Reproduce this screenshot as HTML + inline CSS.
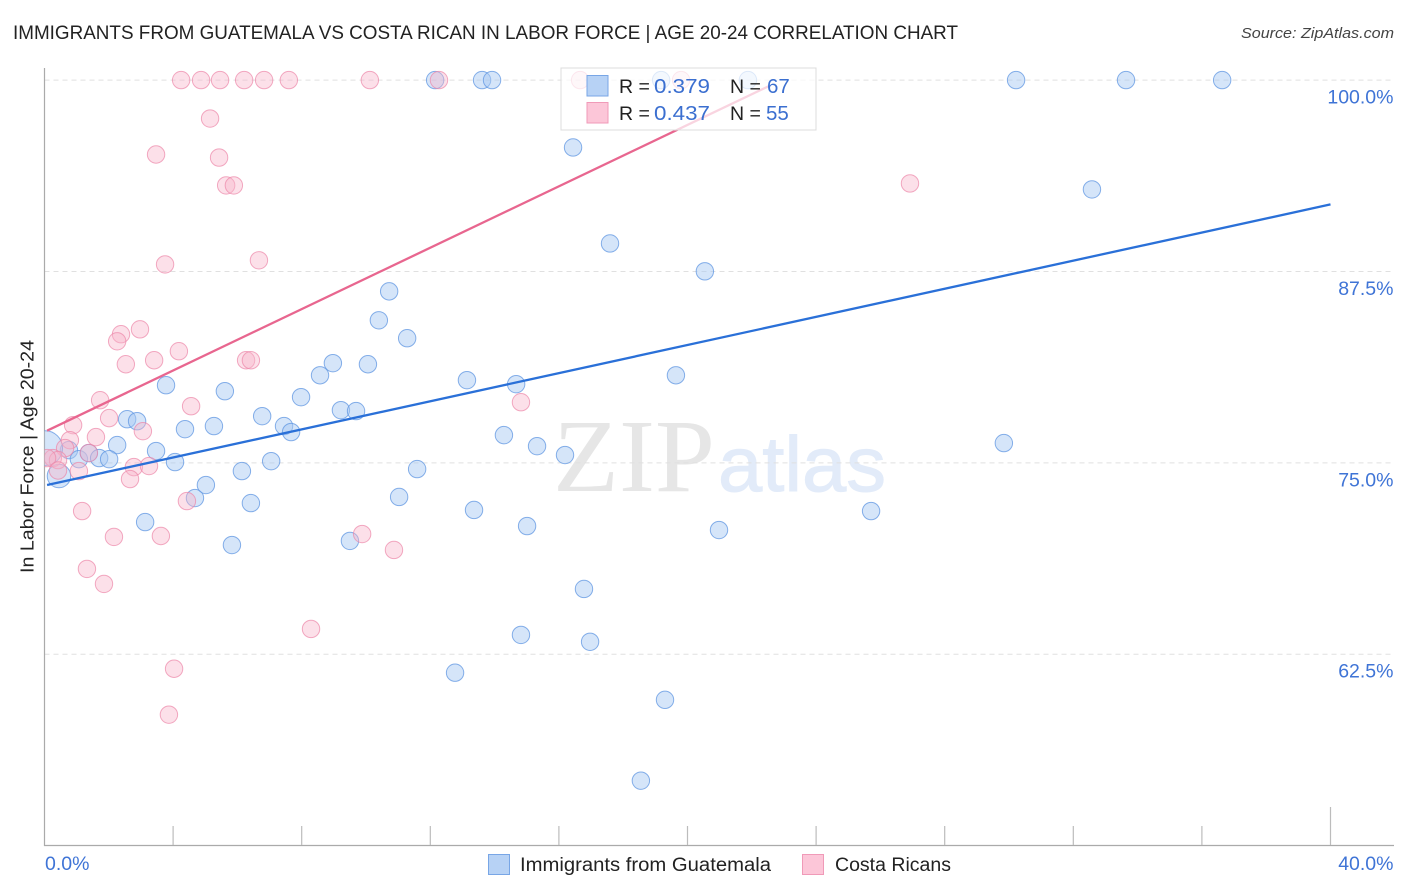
<!DOCTYPE html>
<html lang="en">
<head>
<meta charset="utf-8">
<title>Immigrants from Guatemala vs Costa Rican in Labor Force | Age 20-24 Correlation Chart</title>
<style>
html,body{margin:0;padding:0;background:#fff;width:1406px;height:892px;overflow:hidden}
svg{display:block;font-family:"Liberation Sans",sans-serif}
</style>
</head>
<body>
<svg id="chart" width="1406" height="892" viewBox="0 0 1406 892" xmlns="http://www.w3.org/2000/svg">
  <defs>
    <clipPath id="plot-clip"><rect x="44.5" y="60" width="1350" height="785"/></clipPath>
  </defs>
  <text x="13" y="39" font-size="19.5" fill="#222" textLength="945" lengthAdjust="spacingAndGlyphs">IMMIGRANTS FROM GUATEMALA VS COSTA RICAN IN LABOR FORCE | AGE 20-24 CORRELATION CHART</text>
  <text x="1394" y="38" font-size="15" font-style="italic" fill="#444" text-anchor="end" textLength="153" lengthAdjust="spacingAndGlyphs">Source: ZipAtlas.com</text>
  <text x="553" y="491" font-family="'Liberation Serif',serif" font-size="104" fill="#e6e6e6" textLength="162" lengthAdjust="spacingAndGlyphs">ZIP</text>
  <text x="718" y="491" font-size="78" fill="#e2ebf9" stroke="#e2ebf9" stroke-width="1" textLength="168" lengthAdjust="spacingAndGlyphs">atlas</text>
  <g id="grid"></g>
  <g id="axes"></g>
  <g id="marks" clip-path="url(#plot-clip)"></g>
  <text transform="translate(33.5,456.5) rotate(-90)" font-size="18.5" fill="#222" text-anchor="middle" textLength="233" lengthAdjust="spacingAndGlyphs">In Labor Force | Age 20-24</text>

  <g>
    <rect x="561" y="68" width="255" height="62" fill="#fff" fill-opacity="0.72" stroke="#dcdcdc"/>
    <rect x="587" y="75.5" width="21" height="20.5" fill="#b7d2f5" stroke="#78a6e6"/>
    <rect x="587" y="102.5" width="21" height="20.5" fill="#fcc6d8" stroke="#f09ab8"/>
    <text x="619" y="93" font-size="19.5" fill="#222">R =</text>
    <text x="654" y="93" font-size="20.5" fill="#3b6fd0" textLength="56" lengthAdjust="spacingAndGlyphs">0.379</text>
    <text x="730" y="93" font-size="19.5" fill="#222">N =</text>
    <text x="767" y="93" font-size="20.5" fill="#3b6fd0">67</text>
    <text x="619" y="120" font-size="19.5" fill="#222">R =</text>
    <text x="654" y="120" font-size="20.5" fill="#3b6fd0" textLength="56" lengthAdjust="spacingAndGlyphs">0.437</text>
    <text x="730" y="120" font-size="19.5" fill="#222">N =</text>
    <text x="766" y="120" font-size="20.5" fill="#3b6fd0">55</text>
  </g>

  <g>
    <rect x="488.5" y="854.5" width="21" height="20" fill="#b7d2f5" stroke="#78a6e6"/>
    <text x="520" y="871" font-size="19" fill="#222" textLength="251" lengthAdjust="spacingAndGlyphs">Immigrants from Guatemala</text>
    <rect x="802.5" y="854.5" width="21" height="20" fill="#fcc6d8" stroke="#f09ab8"/>
    <text x="835" y="871" font-size="19" fill="#222" textLength="116" lengthAdjust="spacingAndGlyphs">Costa Ricans</text>
  </g>
</svg>
<script>
var yTicks = [100, 87.5, 75, 62.5];
var yTickLabels = ["100.0%", "87.5%", "75.0%", "62.5%"];
var xTicks = [0, 4, 8, 12, 16, 20, 24, 28, 32, 36, 40];
var xEndTicks = [0, 40];
var xEndLabels = ["0.0%", "40.0%"];

var blueX = [18.55,19.30,12.77,16.97,14.82,16.78,9.50,5.83,3.13,6.42,4.68,5.02,11.03,13.36,15.01,20.98,25.71,11.59,6.14,7.05,4.06,3.47,4.37,5.27,2.26,2.57,2.88,3.78,5.61,6.77,7.45,7.67,7.98,8.57,8.97,10.06,9.22,9.69,13.14,14.67,14.29,15.32,16.19,19.64,20.54,17.59,16.44,10.40,10.72,11.28,29.84,32.58,30.22,33.64,36.63,12.15,13.61,13.92,19.18,21.88,0.76,1.07,1.38,1.70,2.01,0.45,0.02];
var blueY = [54.24,59.52,61.29,63.31,63.76,66.76,69.90,69.63,71.13,72.37,72.70,73.55,72.77,71.92,70.87,70.61,71.85,74.59,74.46,75.11,75.05,75.77,77.20,77.40,76.16,77.85,77.72,80.07,79.68,78.05,77.40,77.01,79.29,80.72,81.51,81.44,78.44,78.38,80.40,80.14,76.81,76.09,75.51,80.72,87.51,89.33,95.60,84.31,86.20,83.14,76.29,92.86,100,100,100,100,100,100,100,100,75.83,75.24,75.64,75.31,75.24,74.14,75.96];
var blueWeight = [1,1,1,1,1,1,1,1,1,1,1,1,1,1,1,1,1,1,1,1,1,1,1,1,1,1,1,1,1,1,1,1,1,1,1,1,1,1,1,1,1,1,1,1,1,1,1,1,1,1,1,1,1,1,1,1,1,1,1,1,1,1,1,1,1,1.35,2];

var pinkX = [4.25,4.87,5.46,6.21,6.83,7.60,10.12,12.27,16.66,19.80,5.15,3.47,5.43,5.65,5.89,26.92,3.75,6.67,2.97,2.38,2.26,4.18,2.53,3.41,6.27,6.42,1.73,4.56,2.01,0.89,3.06,1.60,0.79,0.64,0.26,0.42,0.08,14.82,1.07,2.78,3.25,2.66,4.43,1.17,2.16,3.62,9.88,10.87,1.32,1.85,8.29,4.03,3.87,1.38,0.42];
var pinkY = [100,100,100,100,100,100,100,100,100,100,97.49,95.14,94.94,93.12,93.12,93.25,87.96,88.23,83.72,83.40,82.94,82.29,81.44,81.70,81.70,81.70,79.09,78.70,77.92,77.46,77.07,76.68,76.48,75.96,75.31,75.18,75.31,78.96,74.46,74.72,74.79,73.94,72.50,71.85,70.16,70.22,70.35,69.31,68.07,67.09,64.15,61.55,58.55,75.64,74.50];

var blueLineX = [0.08, 40];
var blueLineY = [73.55, 91.88];
var pinkLineX = [0.08, 22.56];
var pinkLineY = [77.10, 99.64];

var NS = "http://www.w3.org/2000/svg";
function xScale(v) { return 44.5 + v * (1330.5 - 44.5) / 40; }
function yScale(v) { return 80.1 + (100 - v) * (654.2 - 80.1) / 37.5; }
function make(tag, parent, attrs) {
  var el = document.createElementNS(NS, tag);
  for (var k in attrs) { el.setAttribute(k, attrs[k]); }
  parent.appendChild(el);
  return el;
}
var grid = document.getElementById("grid");
var axes = document.getElementById("axes");
var marks = document.getElementById("marks");

yTicks.forEach(function (t, i) {
  var line = make("line", grid, {x1: 44.5, x2: 1394, y1: yScale(t), y2: yScale(t), stroke: "#e0e0e0", "stroke-width": 1, "stroke-dasharray": "5 4"});
  
  
  var label = make("text", axes, {x: 1393.5, y: yScale(t) + 23.5, "font-size": 19.5, fill: "#3f74d6", "text-anchor": "end"});
  label.textContent = yTickLabels[i];
  
  
});

var yAxis = make("line", axes, {x1: 44.5, x2: 44.5, y1: 68, y2: 846, stroke: "#aaaaaa", "stroke-width": 1.2});


var xAxis = make("line", axes, {x1: 44, x2: 1394, y1: 845.5, y2: 845.5, stroke: "#aaaaaa", "stroke-width": 1.2});



xTicks.forEach(function (t, i) {
  if (i === 0) { return; }
  var top = i === xTicks.length - 1 ? 807 : 826;
  var tick = make("line", axes, {x1: xScale(t), x2: xScale(t), y1: top, y2: 845, stroke: "#bcbcbc", "stroke-width": 1.2});
  
  
});
xEndTicks.forEach(function (t, i) {
  var label = make("text", axes, i === 0
    ? {x: xScale(t) + 0.5, y: 870, "font-size": 19.5, fill: "#3f74d6"}
    : {x: 1393.5, y: 870, "font-size": 19.5, fill: "#3f74d6", "text-anchor": "end"});
  label.textContent = xEndLabels[i];
  
  
});

blueX.forEach(function (v, i) {
  var c = make("circle", marks, {cx: xScale(v), cy: yScale(blueY[i]), r: 8.7 * blueWeight[i], fill: "#a8c8f2", "fill-opacity": 0.48, stroke: "#5f96e2", "stroke-opacity": 0.75, "stroke-width": 1});
  
  
});
pinkX.forEach(function (v, i) {
  var c = make("circle", marks, {cx: xScale(v), cy: yScale(pinkY[i]), r: 8.7, fill: "#f9b5ca", "fill-opacity": 0.42, stroke: "#ec86a8", "stroke-opacity": 0.7, "stroke-width": 1});
  
  
});

var blueTrend = make("line", marks, {x1: xScale(blueLineX[0]), y1: yScale(blueLineY[0]), x2: xScale(blueLineX[1]), y2: yScale(blueLineY[1]), stroke: "#2a70d8", "stroke-width": 2.3});


var pinkTrend = make("line", marks, {x1: xScale(pinkLineX[0]), y1: yScale(pinkLineY[0]), x2: xScale(pinkLineX[1]), y2: yScale(pinkLineY[1]), stroke: "#e8668f", "stroke-width": 2.3});


</script>
</body>
</html>
